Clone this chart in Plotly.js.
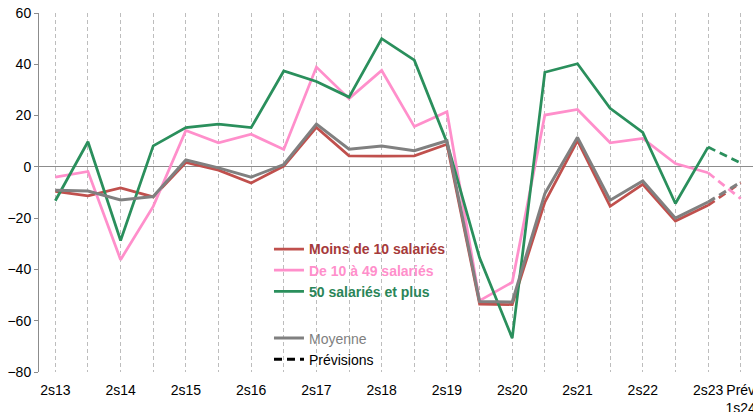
<!DOCTYPE html>
<html>
<head>
<meta charset="utf-8">
<script src="https://cdn.plot.ly/plotly-3.0.1.min.js"></script>
<style>
html, body { margin: 0; padding: 0; overflow: hidden; background: #fff; width: 753px; height: 412px; }
#chart { width: 758px; height: 412px; }
</style>
</head>
<body>
<div id="chart"></div>
<script>
var categories = ['2s13','1s14','2s14','1s15','2s15','1s16','2s16','1s17','2s17','1s18','2s18','1s19','2s19','1s20','2s20','1s21','2s21','1s22','2s22','1s23','2s23','Prév<br>1s24'];
var tickLabels = ['2s13','','2s14','','2s15','','2s16','','2s17','','2s18','','2s19','','2s20','','2s21','','2s22','','2s23','Prév<br>1s24'];

var moins10 = [-9.6,-11.3,-8.2,-11.7,1.7,-1.3,-6.3,0.3,15.4,4.3,4.2,4.3,8.8,-53.5,-53.7,-13.7,10.2,-15.4,-6.8,-21.1,-15.0,-6.2];
var de10a49 = [-4.0,-1.8,-36.2,-15.4,14.2,9.4,12.7,6.8,38.9,26.6,37.6,15.7,21.5,-52.2,-45.0,20.2,22.4,9.4,11.1,1.3,-2.3,-12.4];
var plus50  = [-13.2,9.8,-28.7,8.2,15.3,16.7,15.3,37.4,33.3,27.2,50.0,41.6,9.5,-35.5,-66.8,36.9,40.2,22.8,13.4,-14.3,7.7,1.5];
var moyenne = [-9.1,-9.4,-12.9,-11.6,2.7,-0.4,-4.0,0.9,16.7,6.9,8.1,6.3,10.2,-52.5,-52.7,-10.4,11.5,-13.0,-5.5,-20.0,-13.7,-6.0];

var nHist = 21; // points 0..20 observed, 21 forecast

var series = [
  {name: 'Moins de 10 salariés', values: moins10, color: '#C0504D', text: '#A63A3A', bold: true, legend: 'legend', width: 2.75},
  {name: 'De 10 à 49 salariés', values: de10a49, color: '#FF8FCB', text: '#FF8FCB', bold: true, legend: 'legend', width: 2.75},
  {name: '50 salariés et plus', values: plus50, color: '#2A8F5C', text: '#2A8558', bold: true, legend: 'legend', width: 2.75},
  {name: 'Moyenne', values: moyenne, color: '#808080', text: '#7F7F7F', bold: false, legend: 'legend2', width: 3}
];

var traces = [];
series.forEach(function(s){
  var label = '<span style="color:' + s.text + '">' + (s.bold ? '<b>' + s.name + '</b>' : s.name) + '</span>';
  traces.push({
    type: 'scatter', mode: 'lines',
    x: categories.slice(0, nHist), y: s.values.slice(0, nHist),
    name: label, legend: s.legend,
    line: {color: s.color, width: s.width},
    hoverinfo: 'skip'
  });
});
series.forEach(function(s){
  traces.push({
    type: 'scatter', mode: 'lines',
    x: categories.slice(nHist - 1), y: s.values.slice(nHist - 1),
    showlegend: false,
    line: {color: s.color, width: s.width, dash: '8px,5px'},
    hoverinfo: 'skip'
  });
});
traces.push({
  type: 'scatter', mode: 'lines',
  x: [null], y: [null],
  name: '<span style="color:#000">Prévisions</span>', legend: 'legend2',
  line: {color: '#000', width: 3, dash: '8px,5px'},
  hoverinfo: 'skip'
});

var font = {family: 'Liberation Sans, Arial, sans-serif', size: 14, color: '#000'};

var layout = {
  width: 758, height: 412,
  margin: {l: 39, r: 1, t: 13, b: 40},
  paper_bgcolor: '#fff', plot_bgcolor: '#fff',
  font: font,
  showlegend: true,
  xaxis: {
    type: 'category',
    categoryorder: 'array', categoryarray: categories,
    range: [-0.5, 21.5],
    tickmode: 'array', tickvals: categories, ticktext: tickLabels,
    showgrid: true, gridcolor: '#BDBDBD', gridwidth: 1, griddash: '4px,3px',
    showline: false, zeroline: false, ticks: '',
    ticklabelstandoff: 8,
    tickfont: {family: font.family, size: 14, color: '#000'},
    fixedrange: true
  },
  yaxis: {
    range: [-80, 60],
    tickmode: 'array', tickvals: [-80,-60,-40,-20,0,20,40,60],
    showgrid: false,
    zeroline: true, zerolinecolor: '#8C8C8C', zerolinewidth: 1,
    showline: true, linecolor: '#8C8C8C', linewidth: 1,
    ticks: 'outside', ticklen: 4, tickcolor: '#8C8C8C',
    tickfont: {family: font.family, size: 14, color: '#000'},
    fixedrange: true
  },
  legend: {
    x: 0.3203, y: 0.386, xanchor: 'left', yanchor: 'top',
    bgcolor: 'rgba(0,0,0,0)', borderwidth: 0,
    font: {family: font.family, size: 14}
  },
  legend2: {
    x: 0.3203, y: 0.138, xanchor: 'left', yanchor: 'top',
    bgcolor: 'rgba(0,0,0,0)', borderwidth: 0,
    font: {family: font.family, size: 14}
  }
};

Plotly.newPlot('chart', traces, layout, {staticPlot: true, displayModeBar: false});
</script>
</body>
</html>
